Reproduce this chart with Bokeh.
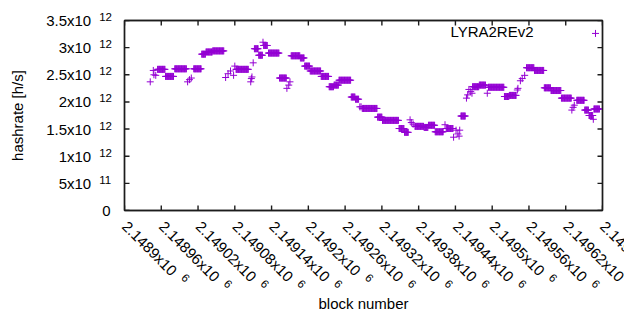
import numpy as np
from bokeh.plotting import figure
from bokeh.models import Range1d, FixedTicker, LinearAxis, Label, ColumnDataSource
from bokeh.core.properties import value
from bokeh.embed import file_html
from bokeh.resources import INLINE

# ---- data: runs of constant hashrate (block range, value in 1e12 h/s) ----
seg_start = [2148942, 2148947, 2148948, 2148951, 2148954, 2148967, 2148982, 2149003, 2149006, 2149009,
             2149013, 2149026, 2149033, 2149044, 2149065, 2149069, 2149073, 2149078, 2149080, 2149082,
             2149106, 2149107, 2149108, 2149110, 2149112, 2149119, 2149126, 2149127, 2149135, 2149153,
             2149165, 2149168, 2149170, 2149172, 2149187, 2149194, 2149203, 2149221, 2149234, 2149242,
             2149250, 2149270, 2149277, 2149284, 2149286, 2149288, 2149313, 2149321, 2149348, 2149357,
             2149366, 2149368, 2149371, 2149374, 2149389, 2149396, 2149407, 2149423, 2149425, 2149437,
             2149441, 2149444, 2149446, 2149447, 2149449, 2149458, 2149460, 2149462, 2149465, 2149467,
             2149468, 2149479, 2149492, 2149494, 2149520, 2149528, 2149541, 2149542, 2149546, 2149549,
             2149553, 2149556, 2149569, 2149585, 2149596, 2149613, 2149630, 2149632, 2149634, 2149638,
             2149651, 2149658, 2149665, 2149666]
seg_end = [2148942, 2148947, 2148948, 2148951, 2148966, 2148980, 2149001, 2149003, 2149006, 2149009,
           2149025, 2149032, 2149043, 2149062, 2149065, 2149069, 2149073, 2149078, 2149080, 2149102,
           2149106, 2149107, 2149108, 2149110, 2149118, 2149125, 2149126, 2149133, 2149152, 2149164,
           2149165, 2149168, 2149170, 2149186, 2149193, 2149202, 2149220, 2149233, 2149241, 2149249,
           2149269, 2149276, 2149282, 2149284, 2149286, 2149312, 2149320, 2149347, 2149356, 2149363,
           2149366, 2149368, 2149371, 2149388, 2149395, 2149406, 2149420, 2149423, 2149436, 2149437,
           2149441, 2149444, 2149446, 2149447, 2149456, 2149458, 2149460, 2149462, 2149465, 2149467,
           2149478, 2149489, 2149492, 2149519, 2149527, 2149539, 2149541, 2149542, 2149546, 2149549,
           2149553, 2149568, 2149584, 2149595, 2149612, 2149629, 2149630, 2149632, 2149634, 2149650,
           2149657, 2149664, 2149665, 2149675]
seg_value = [2.37, 2.58, 2.50, 2.49, 2.60, 2.47, 2.61, 2.37, 2.41, 2.44,
             2.61, 2.88, 2.92, 2.94, 2.45, 2.52, 2.57, 2.49, 2.66, 2.60,
             2.37, 2.43, 2.46, 2.72, 2.98, 2.86, 3.10, 3.04, 2.90, 2.44,
             2.25, 2.31, 2.37, 2.85, 2.81, 2.66, 2.57, 2.47, 2.28, 2.31,
             2.40, 2.09, 2.05, 1.91, 1.91, 1.88, 1.72, 1.66, 1.51, 1.44,
             1.67, 1.62, 1.59, 1.55, 1.53, 1.57, 1.45, 1.58, 1.51, 1.35,
             1.48, 1.41, 1.37, 1.48, 1.74, 2.07, 2.13, 2.23, 2.19, 2.16,
             2.28, 2.31, 2.16, 2.27, 2.10, 2.12, 2.22, 2.25, 2.39, 2.43,
             2.49, 2.63, 2.58, 2.26, 2.21, 2.07, 1.85, 1.90, 1.94, 2.03,
             1.85, 1.75, 1.68, 1.87]

x_ticks = [2148900, 2148960, 2149020, 2149080, 2149140, 2149200, 2149260,
           2149320, 2149380, 2149440, 2149500, 2149560, 2149620, 2149680]
x_tick_main = ["2.1489x10", "2.14896x10", "2.14902x10", "2.14908x10", "2.14914x10", "2.1492x10",
               "2.14926x10", "2.14932x10", "2.14938x10", "2.14944x10", "2.1495x10", "2.14956x10",
               "2.14962x10", "2.14968x10"]
x_tick_exp = ["6"] * 14
y_ticks = [0, 0.5e12, 1.0e12, 1.5e12, 2.0e12, 2.5e12, 3.0e12, 3.5e12]
y_tick_main = ["0", "5x10", "1x10", "1.5x10", "2x10", "2.5x10", "3x10", "3.5x10"]
y_tick_exp = ["", "11", "12", "12", "12", "12", "12", "12"]
series_name = "LYRA2REv2"

X0, X1 = 2148900, 2149680
Y0, Y1 = 0, 3.5e12
PURPLE = "#9400d3"
INK = "#1c1c1c"
LW = 1.4
FONT = "Liberation Sans"
FS = 15.0
FSE = 11.5

W, H = 624, 314
FL, FT, FW, FH = 124, 20, 478, 191
FR, FB = W - FL - FW, H - FT - FH

blocks = np.concatenate([np.arange(a, b + 1) for a, b in zip(seg_start, seg_end)])
rates = np.concatenate([np.full(b - a + 1, v * 1e12) for a, b, v in zip(seg_start, seg_end, seg_value)])

p = figure(width=W, height=H, x_range=Range1d(X0, X1), y_range=Range1d(Y0, Y1),
           output_backend="svg", toolbar_location=None, x_axis_type=None, y_axis_type=None,
           min_border_left=FL, min_border_right=FR, min_border_top=FT, min_border_bottom=FB)
p.outline_line_color = INK
p.outline_line_width = LW
p.background_fill_color = "white"
p.border_fill_color = "white"

titles = {"below": "block number", "left": "hashrate [h/s]"}
for loc, ticks in (("below", x_ticks), ("above", x_ticks), ("left", y_ticks), ("right", y_ticks)):
    ax = LinearAxis(ticker=FixedTicker(ticks=ticks, minor_ticks=[]))
    ax.major_label_overrides = {t: "" for t in ticks}
    ax.major_tick_in = 0
    ax.major_tick_out = 0
    ax.minor_tick_in = 0
    ax.minor_tick_out = 0
    ax.major_label_text_font_size = "1px"
    ax.major_label_standoff = 0
    ax.axis_line_color = INK
    ax.axis_line_width = LW
    if loc in titles:
        ax.axis_label = titles[loc]
        ax.axis_label_text_font = FONT
        ax.axis_label_text_font_size = f"{FS}px"
        ax.axis_label_text_font_style = "normal"
        ax.axis_label_text_color = "black"
        ax.axis_label_standoff = 84 if loc == "below" else 99
    p.add_layout(ax, loc)

px_x = (X1 - X0) / FW
px_y = (Y1 - Y0) / FH

# inward ticks on all four sides, drawn from the tick arrays
TK = 5
fx0 = x_ticks + x_ticks + [X0] * len(y_ticks) + [X1] * len(y_ticks)
fy0 = [Y0] * len(x_ticks) + [Y1] * len(x_ticks) + y_ticks + y_ticks
fx1 = x_ticks + x_ticks + [X0 + TK * px_x] * len(y_ticks) + [X1 - TK * px_x] * len(y_ticks)
fy1 = [Y0 + TK * px_y] * len(x_ticks) + [Y1 - TK * px_y] * len(x_ticks) + y_ticks + y_ticks
p.segment(x0=fx0, y0=fy0, x1=fx1, y1=fy1, line_color=INK, line_width=LW)

p.scatter(blocks, rates, marker="cross", size=7, line_color=PURPLE, line_width=1)

# legend: text then sample marker at the top right of the frame
p.scatter([X1 - 7 * px_x], [Y1 - 13 * px_y], marker="cross", size=7, line_color=PURPLE, line_width=1)
p.add_layout(Label(x=409, y=FH - 12.3, x_units="screen", y_units="screen", text=series_name,
                   text_align="right", text_baseline="middle", text_font=FONT,
                   text_font_size=f"{FS}px", text_color="black"))

# character widths (Arial / Liberation Sans metrics, em)
cw = {".": 0.278, "x": 0.5}
def tw(s, fs):
    return sum(cw.get(ch, 0.556) for ch in s) * fs

# y tick labels with raised exponents
GAP = 8.0
y_main_xo = [(-14.0 if e == "" else -33.3) for e in y_tick_exp]
src_ym = ColumnDataSource(dict(x=[X0] * len(y_ticks), y=y_ticks, t=y_tick_main, xo=y_main_xo))
p.text(x="x", y="y", text="t", source=src_ym, x_offset="xo", text_align="right", text_baseline="middle",
       text_font=value(FONT), text_font_size=value(f"{FS}px"), text_color="black", level="overlay")
ye = [(yv, e) for yv, e in zip(y_ticks, y_tick_exp) if e]
src_ye = ColumnDataSource(dict(x=[X0] * len(ye), y=[a for a, _ in ye], t=[b for _, b in ye]))
p.text(x="x", y="y", text="t", source=src_ye, x_offset=-33.3 + GAP, y_offset=-3.5,
       text_align="left", text_baseline="middle",
       text_font=value(FONT), text_font_size=value(f"{FSE}px"), text_color="black", level="overlay")

# x tick labels, rotated -45 degrees, with raised exponents
c = np.sqrt(0.5)
ang = -np.pi / 4
BX, BY = 0.5, 13.0
RAISE = 4.3
src_xm = ColumnDataSource(dict(x=x_ticks, y=[Y0] * len(x_ticks), t=x_tick_main))
p.text(x="x", y="y", text="t", source=src_xm, x_offset=BX, y_offset=BY, angle=ang,
       text_align="left", text_baseline="middle",
       text_font=value(FONT), text_font_size=value(f"{FS}px"), text_color="black", level="overlay")
d = [tw(s, FS) + GAP for s in x_tick_main]
src_xe = ColumnDataSource(dict(x=x_ticks, y=[Y0] * len(x_ticks), t=x_tick_exp,
                               xo=[BX + di * c + RAISE * c for di in d],
                               yo=[BY + di * c - RAISE * c for di in d]))
p.text(x="x", y="y", text="t", source=src_xe, x_offset="xo", y_offset="yo", angle=ang,
       text_align="left", text_baseline="middle",
       text_font=value(FONT), text_font_size=value(f"{FSE}px"), text_color="black", level="overlay")

open("out.html", "w").write(file_html(p, INLINE))
